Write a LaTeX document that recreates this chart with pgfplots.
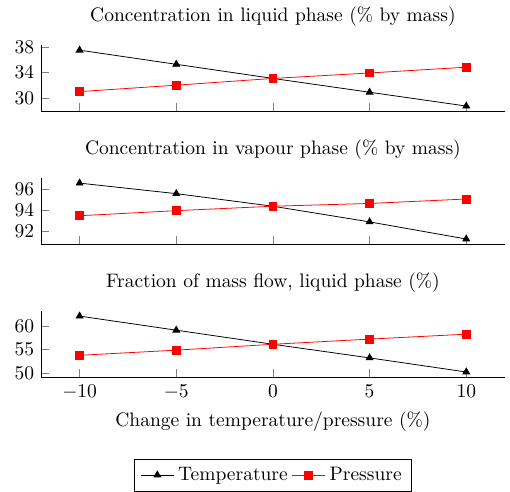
\documentclass[border=0pt]{standalone}
\usepackage{pgfplots}
\pgfplotsset{compat=1.18}
\begin{document}
\begin{tikzpicture}
\pgfplotsset{
  myax/.style={
    width=238pt, height=34.4pt, scale only axis,
    axis x line=bottom, axis y line=left, axis line style={-},
    tick align=inside,
    xmin=-12, xmax=12, xtick={-10,-5,0,5,10},
    enlarge y limits=0.1,
  },
  tser/.style={black, mark=triangle*, mark options={solid}},
  pser/.style={red, mark=square*, mark options={solid}},
}
\begin{axis}[myax, name=a1, at={(0,0)}, anchor=north west,
  title={Concentration in liquid phase (\% by mass)},
  ytick={30,34,38}, xticklabels={}]
\addplot[tser] coordinates {(-10,37.5) (-5,35.3) (0,33.1) (5,30.95) (10,28.8)};
\addplot[pser] coordinates {(-10,31.05) (-5,32.05) (0,33.1) (5,33.95) (10,34.85)};
\end{axis}
\begin{axis}[myax, name=a2, at={(0,-68.2pt)}, anchor=north west,
  title={Concentration in vapour phase (\% by mass)},
  ytick={92,94,96}, xticklabels={}]
\addplot[tser] coordinates {(-10,96.62) (-5,95.6) (0,94.38) (5,92.86) (10,91.2)};
\addplot[pser] coordinates {(-10,93.46) (-5,93.95) (0,94.38) (5,94.65) (10,95.08)};
\end{axis}
\begin{axis}[myax, name=a3, at={(0,-136.4pt)}, anchor=north west,
  title={Fraction of mass flow, liquid phase (\%)},
  ytick={50,55,60},
  xlabel={Change in temperature/pressure (\%)},
  legend columns=-1,
  legend style={at={(0.5,-1.21)}, anchor=north, draw=black, fill=white,
    /tikz/every even column/.append style={column sep=0pt}}]
\addplot[tser] coordinates {(-10,62.1) (-5,59.1) (0,56.1) (5,53.2) (10,50.2)};
\addlegendentry{Temperature}
\addplot[pser] coordinates {(-10,53.75) (-5,54.85) (0,56.1) (5,57.2) (10,58.25)};
\addlegendentry{Pressure}
\end{axis}
\path ([xshift=-21pt]a3.south west) ([xshift=2.6pt]a3.south east);
\end{tikzpicture}
\end{document}
